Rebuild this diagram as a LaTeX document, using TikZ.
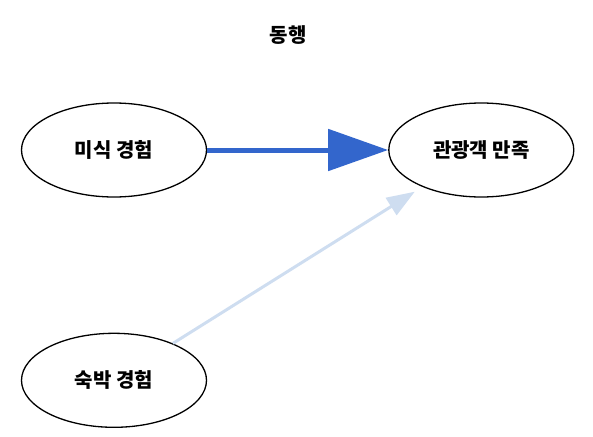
\documentclass[tikz,border=0pt]{standalone}
\usepackage{fontspec}
\setmainfont{Noto Sans CJK KR}
\usetikzlibrary{positioning,shapes.geometric,arrows.meta}
\definecolor{pathstrong}{RGB}{51,102,204}
\definecolor{pathweak}{RGB}{206,221,240}

\begin{document}
\begin{tikzpicture}[x=1pt,y=-1pt,node distance=181pt,font=\bfseries\fontsize{20}{24}\selectfont]
\useasboundingbox (0,0) rectangle (593,436);
\tikzset{factor/.style={ellipse,draw,line width=1.3pt,minimum width=185pt,minimum height=94pt,inner sep=0pt}}
\node (title) at (288,35) {동행};
\node[factor] (food) at (114,150) {미식 경험};
\node[factor,right=181pt of food] (satisfy) {관광객 만족};
\node[factor,below=135pt of food] (stay) {숙박 경험};
\draw[-{Triangle[length=60pt,width=41pt]}, pathstrong, line width=5pt] (food) -- (satisfy);
\draw[-{Triangle[length=28pt,width=20pt]}, pathweak, line width=3pt, shorten >=9pt] (stay) -- (satisfy);
\end{tikzpicture}
\end{document}
